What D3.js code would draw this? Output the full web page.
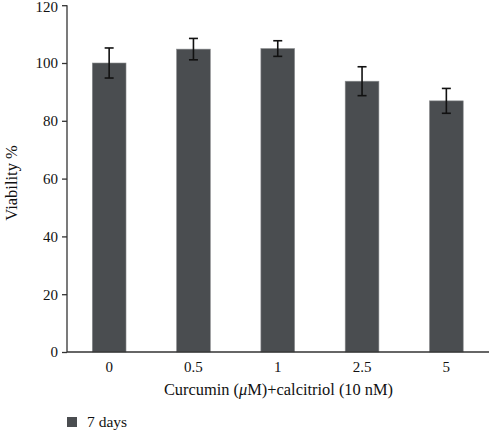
<!DOCTYPE html>
<html><head><meta charset="utf-8">
<script src="https://cdn.jsdelivr.net/npm/d3@7"></script>
<style>body{margin:0;background:#fff;} svg{display:block;}</style>
</head><body>
<svg id="c" width="489" height="432"></svg>
<script>
const categories = ["0", "0.5", "1", "2.5", "5"];
const values = [100, 104.8, 105, 93.7, 86.9];
const errors = [5.2, 3.7, 2.7, 5.0, 4.3];
const yTicks = [0, 20, 40, 60, 80, 100, 120];
const seriesName = "7 days";

const svg = d3.select("#c");
const font = "'Liberation Serif', 'DejaVu Serif', serif";
const x = d3.scaleBand().domain(categories).range([67, 488.5]).paddingInner(0.6).paddingOuter(0.3);
const y = d3.scaleLinear().domain([0, 120]).range([352, 5.2]);

// bars
svg.selectAll("rect.bar").data(values).enter().append("rect")
  .attr("class","bar")
  .attr("x",(d,i)=>x(categories[i]))
  .attr("width",x.bandwidth())
  .attr("y",d=>y(d))
  .attr("height",d=>y(0)-y(d))
  .attr("fill","#4a4d50")
  .attr("stroke","#8a8c8e").attr("stroke-width",0.6);

// error bars
const eg = svg.append("g").attr("stroke","#111").attr("stroke-width",1.6);
values.forEach((v,i)=>{
  const cx = x(categories[i]) + x.bandwidth()/2;
  eg.append("line").attr("x1",cx).attr("x2",cx).attr("y1",y(v+errors[i])).attr("y2",y(v-errors[i]));
  eg.append("line").attr("x1",cx-4.5).attr("x2",cx+4.5).attr("y1",y(v+errors[i])).attr("y2",y(v+errors[i]));
  eg.append("line").attr("x1",cx-4.5).attr("x2",cx+4.5).attr("y1",y(v-errors[i])).attr("y2",y(v-errors[i]));
});

// y axis
const ya = svg.append("g").attr("transform","translate(67,0)")
  .call(d3.axisLeft(y).tickValues(yTicks).tickSize(5).tickPadding(4).tickFormat(d3.format("d")));
ya.select(".domain").attr("stroke","#333").attr("stroke-width",1.3).attr("d","M0,5.2V352");
ya.selectAll(".tick line").attr("stroke","#333").attr("stroke-width",1.3);
ya.selectAll("text").attr("font-family",font).attr("font-size",15).attr("fill","#111");
ya.selectAll(".tick").filter(d=>d===120).select("text").attr("dy","0.42em");

// x axis
const xa = svg.append("g").attr("transform","translate(0,352)")
  .call(d3.axisBottom(x).tickSize(0).tickPadding(9));
xa.select(".domain").attr("stroke","#333").attr("stroke-width",1.3).attr("d","M67,0H489");
xa.selectAll("text").attr("font-family",font).attr("font-size",15).attr("fill","#111");

// titles
const xt = svg.append("text").attr("x",278.5).attr("y",395).attr("text-anchor","middle")
  .attr("font-family",font).attr("font-size",16.4).attr("fill","#111");
xt.append("tspan").text("Curcumin (");
xt.append("tspan").attr("font-style","italic").text("\u03bc");
xt.append("tspan").text("M)+calcitriol (10 nM)");

svg.append("text").attr("transform","translate(17,183) rotate(-90)").attr("text-anchor","middle")
  .attr("font-family",font).attr("font-size",16.5).attr("fill","#111").text("Viability %");

// legend
svg.append("rect").attr("x",67).attr("y",417).attr("width",10).attr("height",10).attr("fill","#4a4d50");
svg.append("text").attr("x",87).attr("y",427).attr("font-family",font).attr("font-size",15.5).attr("fill","#111").text(seriesName);
</script>
</body></html>
